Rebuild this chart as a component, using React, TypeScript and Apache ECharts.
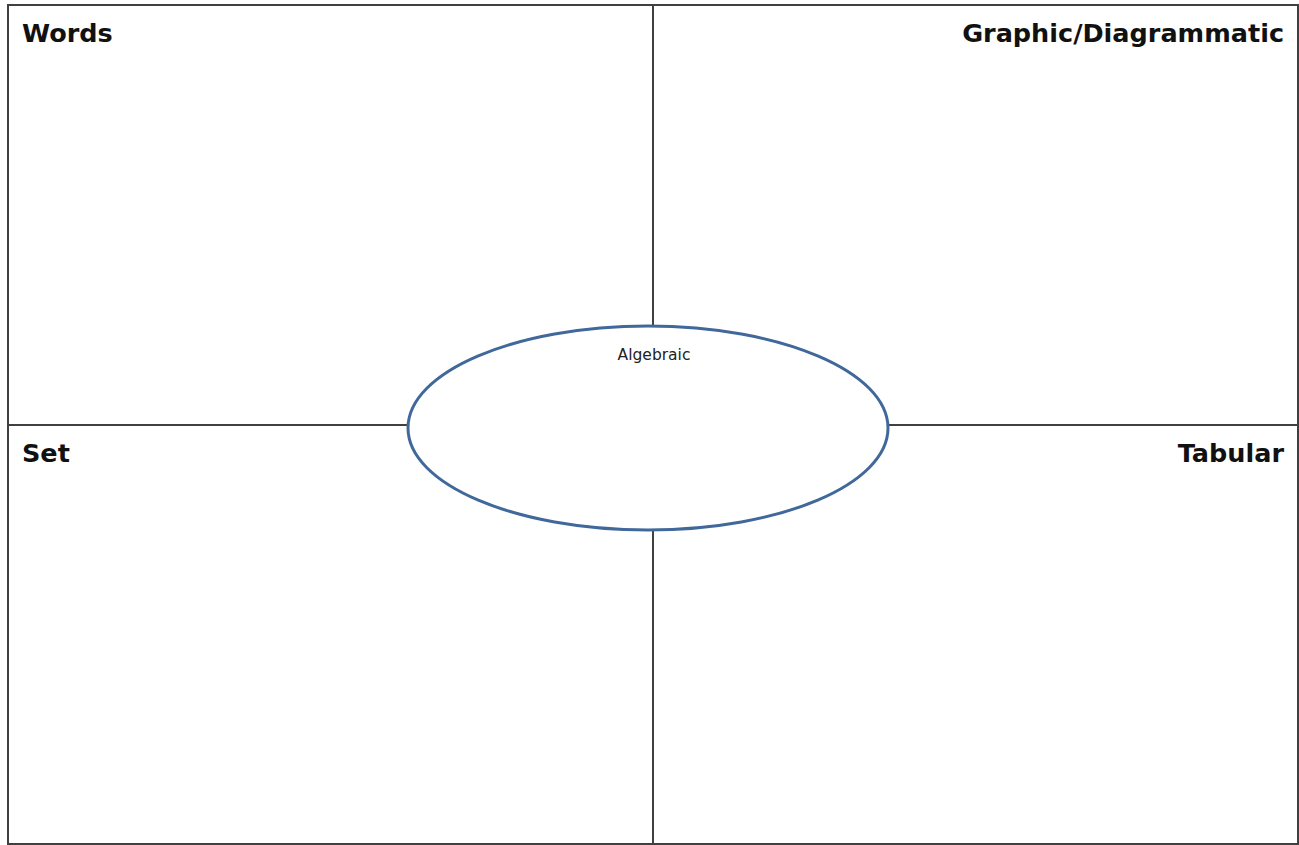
import React, { useEffect, useRef } from "react";
import * as echarts from "echarts";

const quadrantLabels = ["Words", "Graphic/Diagrammatic", "Set", "Tabular"];
const quadrantAlign = ["left", "right", "left", "right"];
const centerLabel = "Algebraic";

export default function App() {
  const ref = useRef<HTMLDivElement>(null);
  useEffect(() => {
    document.body.style.margin = "0";
    const chart = echarts.init(ref.current!, null, { renderer: "svg" });
    const left = 8, top = 5, right = 1298, bottom = 844;
    const cx = 653, cy = 425;
    const lineColor = "#404040";
    const labelPos = [
      [22, 33],
      [1284, 33],
      [22, 453],
      [1284, 453],
    ];
    const labels = quadrantLabels.map((t, i) => ({
      type: "text",
      x: labelPos[i][0],
      y: labelPos[i][1],
      style: {
        text: t,
        fill: "#111",
        font: "bold 25.5px 'DejaVu Sans', sans-serif",
        align: quadrantAlign[i],
        verticalAlign: "middle",
      },
      z: 10,
    }));
    chart.setOption({
      animation: false,
      backgroundColor: "#fff",
      graphic: [
        {
          type: "rect",
          shape: { x: left, y: top, width: right - left, height: bottom - top },
          style: { fill: "#fff", stroke: lineColor, lineWidth: 2 },
          z: 1,
        },
        {
          type: "line",
          shape: { x1: cx, y1: top, x2: cx, y2: bottom },
          style: { stroke: lineColor, lineWidth: 2 },
          z: 2,
        },
        {
          type: "line",
          shape: { x1: left, y1: cy, x2: right, y2: cy },
          style: { stroke: lineColor, lineWidth: 2 },
          z: 2,
        },
        {
          type: "ellipse",
          shape: { cx: 648, cy: 428, rx: 240, ry: 102 },
          style: { fill: "#fff", stroke: "#41689a", lineWidth: 3 },
          z: 5,
        },
        {
          type: "text",
          x: 654,
          y: 355,
          style: {
            text: centerLabel,
            fill: "#222",
            font: "15.5px 'DejaVu Sans', sans-serif",
            align: "center",
            verticalAlign: "middle",
          },
          z: 10,
        },
        ...labels,
      ],
    });
    return () => chart.dispose();
  }, []);
  return <div ref={ref} style={{ width: 1299, height: 845 }} />;
}
